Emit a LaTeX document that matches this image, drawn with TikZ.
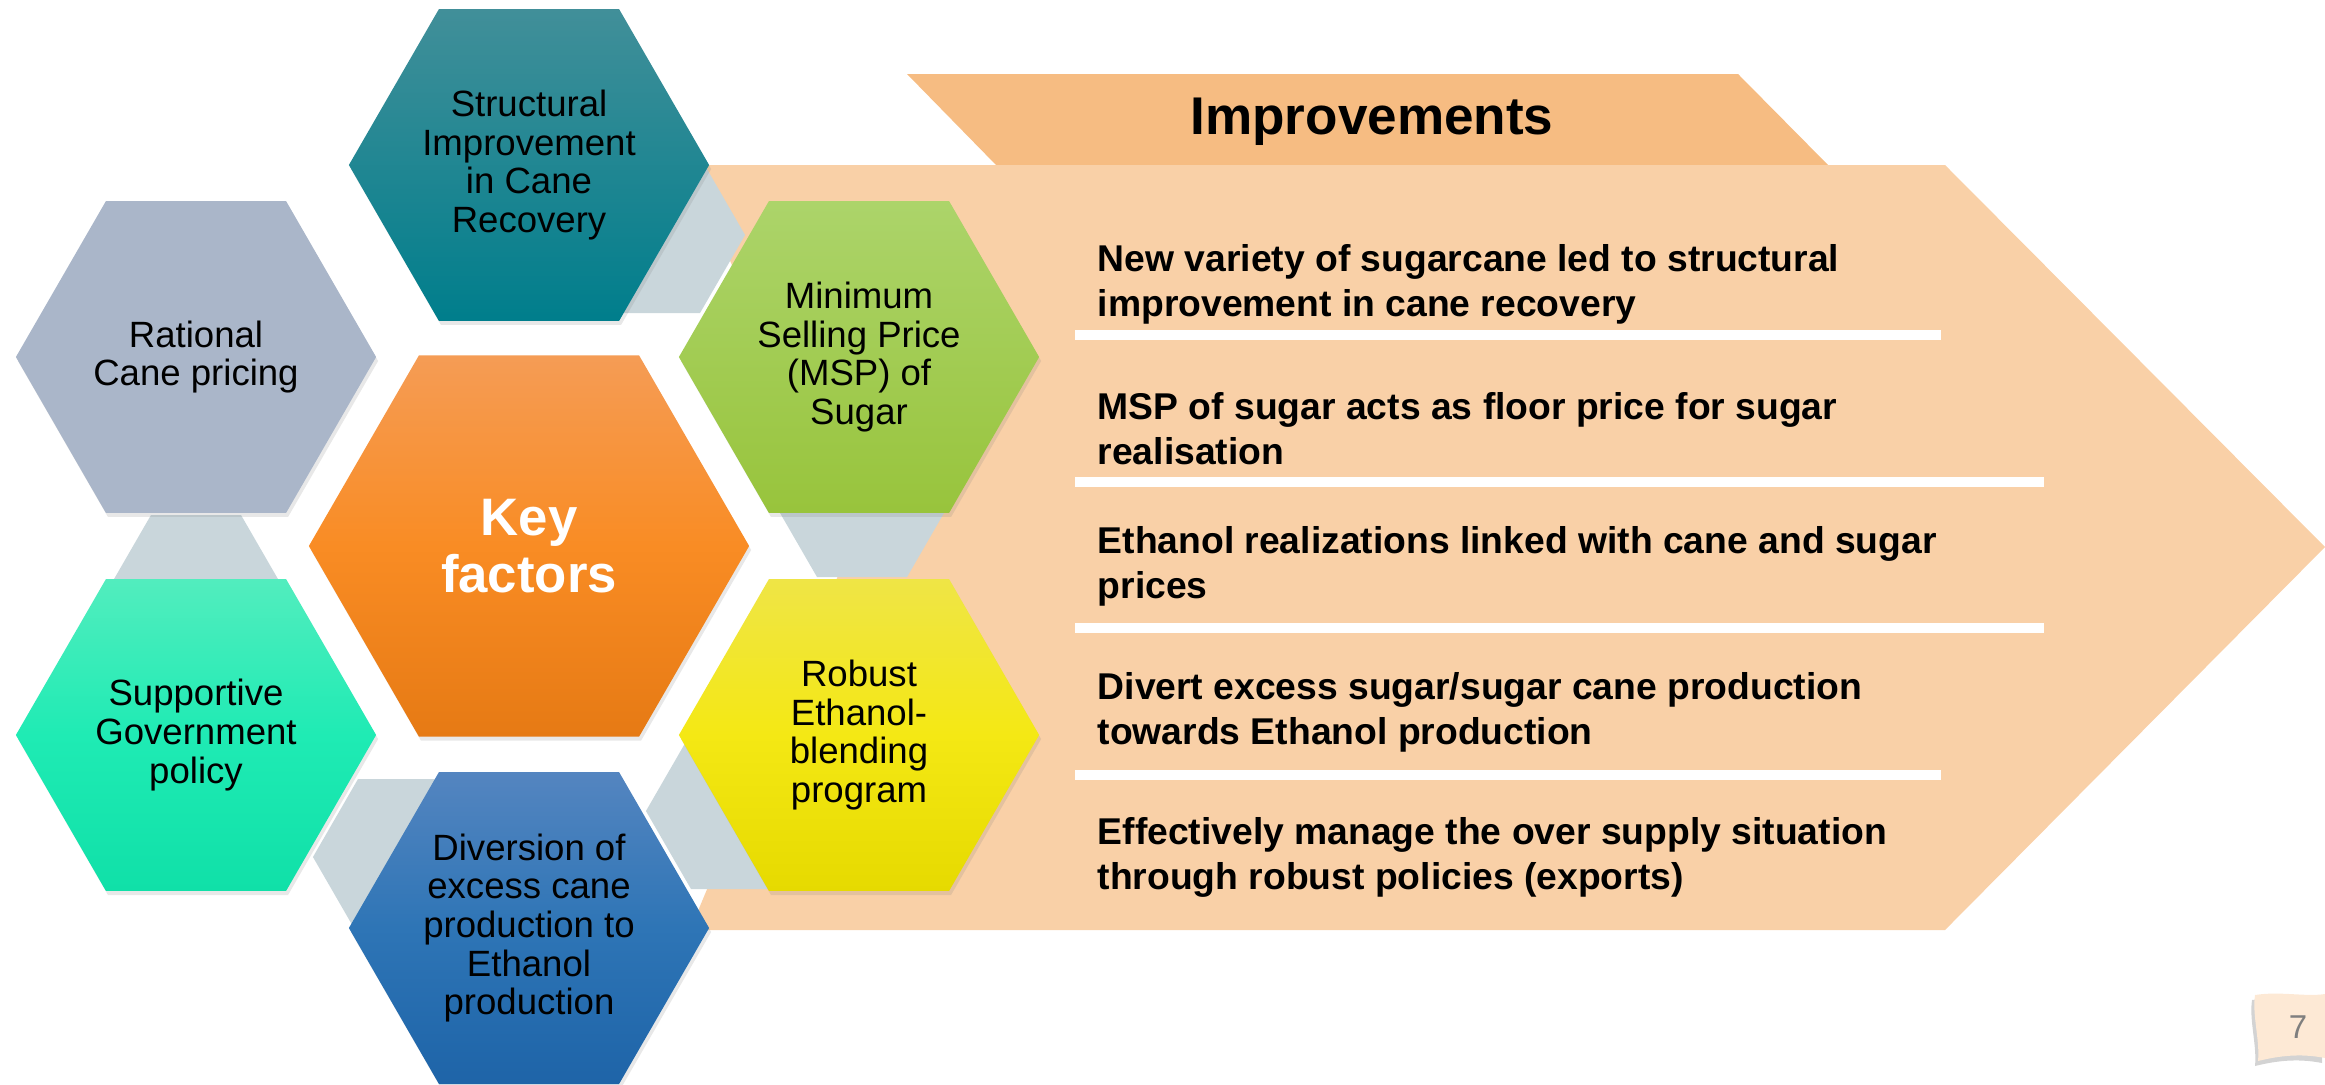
\documentclass[tikz,border=0pt]{standalone}
\usepackage{fontspec}
\setmainfont{Liberation Sans}
\usetikzlibrary{shapes.geometric,shadows}

\definecolor{hdrpeach}{HTML}{F6BC82}
\definecolor{bodypeach}{HTML}{F9D0A7}
\definecolor{linkgray}{HTML}{C9D6DB}
\definecolor{tealA}{HTML}{418F99}
\definecolor{tealB}{HTML}{007E8C}
\definecolor{slate}{HTML}{AAB6C9}
\definecolor{orangeA}{HTML}{F59C55}
\definecolor{orangeM}{HTML}{F98C24}
\definecolor{orangeB}{HTML}{E67A14}
\definecolor{greenA}{HTML}{ACD46A}
\definecolor{greenB}{HTML}{98C43C}
\definecolor{mintA}{HTML}{52EDBE}
\definecolor{mintM}{HTML}{1FEBB4}
\definecolor{mintB}{HTML}{10E0A8}
\definecolor{yellowA}{HTML}{EFE546}
\definecolor{yellowM}{HTML}{F4E814}
\definecolor{yellowB}{HTML}{E6DA00}
\definecolor{blueA}{HTML}{5485C0}
\definecolor{blueM}{HTML}{2E75B6}
\definecolor{blueB}{HTML}{1E64A8}
\definecolor{badgefill}{HTML}{FDE9D5}
\definecolor{numgray}{HTML}{7F7F7F}

\begin{document}
\begin{tikzpicture}[
        x=0.01cm, y=-0.01cm,
        hexa/.style={regular polygon, regular polygon sides=6, minimum size=3.6cm,
            inner sep=0pt, draw=none,
            drop shadow={shadow xshift=0.02cm, shadow yshift=-0.04cm, opacity=0.18}},
        link/.style={regular polygon, regular polygon sides=6, minimum size=1.8cm,
            inner sep=0pt, draw=none, fill=linkgray},
        hextext/.style={align=center, font=\fontsize{10.4}{11}\selectfont},
        item/.style={anchor=west, align=left, inner sep=0pt,
            font=\fontsize{10.6}{12.8}\selectfont\bfseries},
        bar/.style={fill=white}
    ]
    \useasboundingbox (0,0) rectangle (2325,1084);

    % Pfeil
    \fill[hdrpeach] (907,74) -- (1738,74) -- (1828,165) -- (996,165) -- cycle;
    \fill[bodypeach] (690,165) -- (1945,165) -- (2325,547) -- (1945,930)
                     -- (690,930) -- (850,547) -- cycle;
    \node[font=\fontsize{15.1}{18}\selectfont\bfseries] (title) at (1372,122) {Improvements};

    \fill[bar] (1075,330) rectangle (1941,340);
    \fill[bar] (1075,477) rectangle (2044,487);
    \fill[bar] (1075,623) rectangle (2044,633);
    \fill[bar] (1075,770) rectangle (1941,780);

    \node[item] (t1) at (1097,284) {New variety of sugarcane led to structural\\improvement in cane recovery};
    \node[item] (t2) at (1097,429) {MSP of sugar acts as floor price for sugar\\realisation};
    \node[item] (t3) at (1097,566) {Ethanol realizations linked with cane and sugar\\prices};
    \node[item] (t4) at (1097,712) {Divert excess sugar/sugar cane production\\towards Ethanol production};
    \node[item] (t5) at (1097,857) {Effectively manage the over supply situation\\through robust policies (exports)};

    % Verbinder
    \foreach \px/\py [count=\i] in {655/235, 862/499, 736/811, 403/857, 196/593}
        \node[link] (c\i) at (\px,\py) {};

    % Sechsecke
    \node[hexa, top color=tealA, bottom color=tealB] (struct) at (529,165) {};
    \node[hexa, fill=slate] (rational) at (196,357) {};
    \node[hexa, top color=mintA, bottom color=mintB, middle color=mintM] (support) at (196,735) {};
    \node[hexa, top color=blueA, bottom color=blueB, middle color=blueM] (divert) at (529,928) {};
    \node[hexa, top color=yellowA, bottom color=yellowB, middle color=yellowM] (robust) at (859,735) {};
    \node[hexa, top color=greenA, bottom color=greenB] (msp) at (859,357) {};
    \node[hexa, minimum size=4.4cm, top color=orangeA, bottom color=orangeB, middle color=orangeM] (key) at (529,546) {};

    \node[hextext] (struct-t) at (struct) {Structural\\Improvement\\in Cane\\Recovery};
    \node[hextext] (rational-t) at (rational) {Rational\\Cane pricing};
    \node[hextext] (support-t) at (support) {Supportive\\Government\\policy};
    \node[hextext] (divert-t) at (divert) {Diversion of\\excess cane\\production to\\Ethanol\\production};
    \node[hextext] (robust-t) at (robust) {Robust\\Ethanol-\\blending\\program};
    \node[hextext] (msp-t) at (msp) {Minimum\\Selling Price\\(MSP) of\\Sugar};
    \node[align=center, text=white, font=\fontsize{15}{16}\selectfont\bfseries] (key-t) at (key) {Key\\factors};

    % Seitenzahl
    \path[fill=badgefill, drop shadow={shadow xshift=-0.03cm, shadow yshift=-0.05cm, opacity=0.35}]
        (2255,995) .. controls (2280,991) and (2305,997) .. (2325,994) -- (2325,1058)
        .. controls (2300,1053) and (2278,1056) .. (2258,1061)
        .. controls (2260,1040) and (2252,1015) .. (2255,995);
    \node[text=numgray, font=\fontsize{9.4}{11}\selectfont] (pg) at (2298,1027) {7};
\end{tikzpicture}
\end{document}
